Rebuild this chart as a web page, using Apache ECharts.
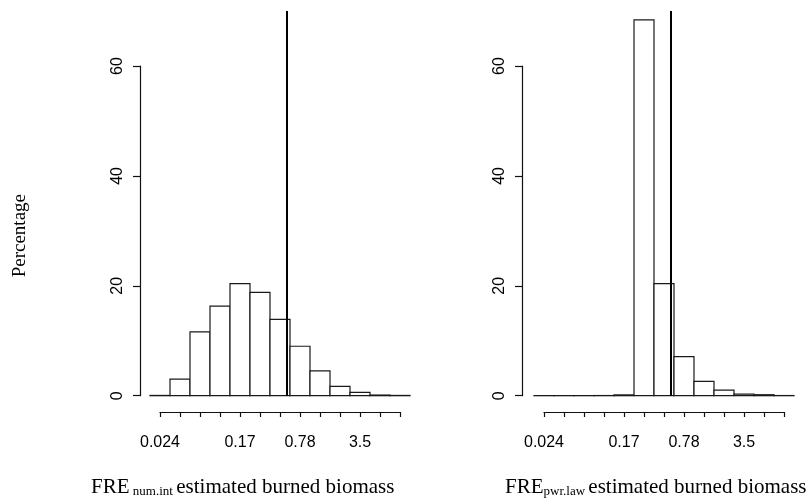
<!DOCTYPE html>
<html>
<head>
<meta charset="utf-8">
<script src="https://cdn.jsdelivr.net/npm/echarts@6/dist/echarts.min.js"></script>
<style>
html,body{margin:0;padding:0;background:#fff;}
#chart{width:809px;height:499px;}
</style>
</head>
<body>
<div id="chart"></div>
<script>
// ---- data ----
// histogram bins on ln(biomass) scale: lower edges, width 0.5
const binLowerLn = [-4.0, -3.5, -3.0, -2.5, -2.0, -1.5, -1.0, -0.5, 0.0, 0.5, 1.0, 1.5, 2.0];
const binWidthLn = 0.5;
// percentage per bin
const numIntPct = [0.05, 3.0, 11.6, 16.3, 20.4, 18.8, 13.9, 9.0, 4.5, 1.7, 0.6, 0.12, 0.05];
const pwrLawPct = [0.02, 0.02, 0.02, 0.03, 0.15, 68.4, 20.4, 7.1, 2.6, 1.0, 0.3, 0.18, 0.03];
// reference (vertical) line position, ln(biomass)
const refLineLn = -0.575;
const refLineTop = 70;
// x tick labels (one per bin centre)
const tickLabels = ['0.024', '', '', '', '0.17', '', '', '0.78', '', '', '3.5', '', ''];
const yTickInterval = 20;
const yMax = 60;

const chart = echarts.init(document.getElementById('chart'), null, {renderer: 'canvas'});

function histData(values) {
  return values.map((v, i) => [binLowerLn[i], binLowerLn[i] + binWidthLn, v]);
}
function renderBar(params, api) {
  const lo = api.value(0), hi = api.value(1), v = api.value(2);
  const a = api.coord([lo, v]);
  const b = api.coord([hi, 0]);
  return {
    type: 'rect',
    shape: {x: a[0], y: a[1], width: b[0] - a[0], height: b[1] - a[1]},
    style: {fill: '#fff', stroke: '#1a1a1a', lineWidth: 1.2}
  };
}

const xMinLn = binLowerLn[0];
const xMaxLn = binLowerLn[binLowerLn.length - 1] + binWidthLn;

const axisColor = '#111';
function mainX(idx) {
  return {type: 'value', gridIndex: idx, min: xMinLn, max: xMaxLn, show: false};
}
function mainY(idx, offset) {
  return {
    type: 'value', gridIndex: idx, min: 0, max: yMax, interval: yTickInterval, offset: offset, position: 'left',
    axisLine: {show: true, onZero: false, lineStyle: {color: axisColor, width: 1.2}},
    axisTick: {show: true, length: 7, lineStyle: {color: axisColor, width: 1.2}},
    axisLabel: {show: true, rotate: 90, margin: 14, color: '#000', fontSize: 16, fontFamily: 'Liberation Sans'},
    splitLine: {show: false}
  };
}
function tickX(idx) {
  return {
    type: 'value', gridIndex: idx, min: 0, max: tickLabels.length - 1, interval: 1, position: 'bottom',
    axisLine: {show: true, onZero: false, lineStyle: {color: axisColor, width: 1.2}},
    axisTick: {show: true, length: 5, lineStyle: {color: axisColor, width: 1.2}},
    axisLabel: {show: true, margin: 23, color: '#000', fontSize: 16, fontFamily: 'Liberation Sans',
      formatter: v => tickLabels[Math.round(v)] || '', showMinLabel: true, showMaxLabel: true},
    splitLine: {show: false}
  };
}
function hiddenY(idx) {
  return {type: 'value', gridIndex: idx, show: false, min: 0, max: 1};
}

const option = {
  backgroundColor: '#fff',
  animation: false,
  grid: [
    {left: 150, width: 260, top: 66, height: 329.7},
    {left: 534, width: 260, top: 66, height: 329.7},
    {left: 160, width: 240, top: 402, height: 10},
    {left: 544, width: 240, top: 402, height: 10}
  ],
  xAxis: [mainX(0), mainX(1), tickX(2), tickX(3)],
  yAxis: [mainY(0, 10), mainY(1, 12), hiddenY(2), hiddenY(3)],
  series: [
    {type: 'custom', xAxisIndex: 0, yAxisIndex: 0, renderItem: renderBar, data: histData(numIntPct),
      encode: {x: [0, 1], y: 2}, clip: false, z: 2},
    {type: 'line', xAxisIndex: 0, yAxisIndex: 0, data: [[refLineLn, 0], [refLineLn, refLineTop]],
      symbol: 'none', clip: false, lineStyle: {color: '#000', width: 2}, z: 5},
    {type: 'custom', xAxisIndex: 1, yAxisIndex: 1, renderItem: renderBar, data: histData(pwrLawPct),
      encode: {x: [0, 1], y: 2}, clip: false, z: 2},
    {type: 'line', xAxisIndex: 1, yAxisIndex: 1, data: [[refLineLn, 0], [refLineLn, refLineTop]],
      symbol: 'none', clip: false, lineStyle: {color: '#000', width: 2}, z: 5}
  ],
  graphic: [
    {type: 'text', left: 11, top: 194, rotation: Math.PI / 2,
      style: {text: 'Percentage', fontSize: 19, fontFamily: 'Liberation Serif', fill: '#000'}},
    {type: 'text', x: 91, y: 477,
      style: {text: '{m|FRE} {s|num.int} {m|estimated burned biomass}', fill: '#000',
        rich: {
          m: {fontSize: 21, fontFamily: 'Liberation Serif', fill: '#000', verticalAlign: 'bottom'},
          s: {fontSize: 13, fontFamily: 'Liberation Serif', fill: '#000', verticalAlign: 'bottom'}
        }}},
    {type: 'text', x: 505, y: 477,
      style: {text: '{m|FRE}{s|pwr.law} {m|estimated burned biomass}', fill: '#000',
        rich: {
          m: {fontSize: 21, fontFamily: 'Liberation Serif', fill: '#000', verticalAlign: 'bottom'},
          s: {fontSize: 13, fontFamily: 'Liberation Serif', fill: '#000', verticalAlign: 'bottom'}
        }}}
  ]
};
chart.setOption(option);
</script>
</body>
</html>
